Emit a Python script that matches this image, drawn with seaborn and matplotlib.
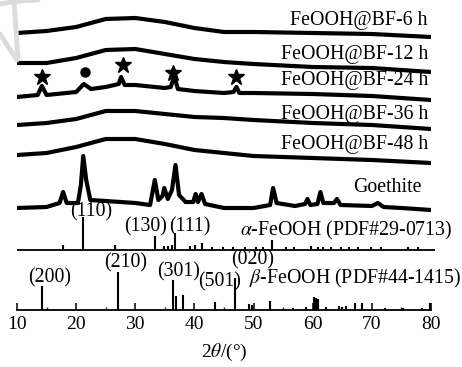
import matplotlib
matplotlib.use("Agg")
import matplotlib.pyplot as plt
from matplotlib.lines import Line2D
import seaborn as sns
import pandas as pd

# ---- measured patterns (2theta in degrees, intensity in a.u.) ----
tt_amorph = [10, 15, 20, 25, 30, 35, 40, 45, 50, 60, 70, 80]
i_6h = [4, 6, 10, 18, 19, 15, 9, 5, 5, 4, 3, 0]
i_12h = [9, 9, 14, 22, 23, 18, 13, 10, 8, 5, 4, 0]
i_36h = [4, 6, 10, 18, 18, 15, 12, 11, 9, 6, 4, 0]
i_48h = [8, 10, 16, 24, 24, 19, 13, 10, 7, 5, 3, 0]

tt_24h = [10, 13.5, 14.2, 15, 20, 21.3, 22.5, 25, 27.2, 27.6, 28.2, 30, 35,
          36.0, 36.6, 37.2, 40, 45, 46.6, 47.1, 47.6, 50, 60, 70, 80]
i_24h = [3, 5, 14, 5, 8, 16, 11, 13, 16, 23, 15, 15, 12,
         13, 24, 11, 9, 7, 8, 13, 7, 7, 6, 4, 0]

tt_goethite = [10, 15, 17.2, 17.8, 18.4, 20.3, 20.8, 21.2, 21.7, 22.4, 25, 30,
               32.5, 33.3, 33.9, 34.6, 34.9, 35.5, 36.2, 36.8, 37.4, 38.5, 39.8,
               40.2, 40.6, 41.2, 41.8, 45, 50, 52.8, 53.3, 53.9, 57, 58.7, 59.1,
               59.6, 60.8, 61.3, 61.8, 63.6, 64.1, 64.7, 70, 71, 72, 75, 80]
i_goethite = [2, 3, 7, 18, 7, 7, 25, 54, 30, 10, 9, 7,
              5, 30, 10, 14, 22, 11, 20, 45, 15, 8, 8,
              16, 8, 16, 6, 2, 2, 5, 22, 7, 4, 6, 11,
              5, 6, 18, 7, 7, 11, 5, 4, 7, 3, 2, 0]

# ---- reference stick patterns ----
alpha_tt = [17.8, 21.2, 26.6, 33.3, 34.8, 35.6, 36.2, 36.65, 39.3, 40.1, 41.2,
            42.9, 44.9, 46.6, 48.5, 50.4, 51.6, 53.2, 55.5, 56.9, 59.7, 60.9,
            61.7, 63.1, 64.8, 66.2, 67.6, 69.9, 71.6, 76.1, 77.8]
alpha_int = [5, 33, 5, 14, 4, 4, 5, 17, 4, 5, 7,
             3, 3, 3, 3, 3, 3, 10, 3, 3, 4, 3,
             3, 3, 3, 3, 3, 3, 3, 3, 3]
beta_tt = [14.2, 27.0, 36.3, 36.85, 38.1, 43.5, 46.8, 49.3, 49.7, 52.7, 56.6,
           58.9, 60.3, 60.6, 60.9, 62.3, 64.5, 65.0, 65.7, 67.1, 68.4, 72.2,
           75.3, 78.4, 79.8]
beta_int = [24, 38, 30, 14, 15, 8, 32, 6, 5, 9, 2,
            3, 13, 12, 11, 3, 4, 3, 4, 7, 7, 2,
            2, 2, 7]

sample_names = ["FeOOH@BF-6 h", "FeOOH@BF-12 h", "FeOOH@BF-24 h",
                "FeOOH@BF-36 h", "FeOOH@BF-48 h", "Goethite"]
alpha_hkl = ["(110)", "(130)", "(111)"]
beta_hkl = ["(200)", "(210)", "(301)", "(501)", "(020)"]
star_tt = [14.2, 27.9, 36.4, 47.1]
circle_tt = [21.5]
x_ticks = [10, 20, 30, 40, 50, 60, 70, 80]

sns.set_theme(style="ticks")
plt.rcParams["font.family"] = ["Liberation Serif", "DejaVu Serif"]
plt.rcParams["mathtext.fontset"] = "stix"
plt.rcParams["text.color"] = "black"
plt.rcParams["axes.labelcolor"] = "black"

fig = plt.figure(figsize=(4.62, 3.67), dpi=100)
W, H = 462, 367
ax = fig.add_axes([17 / W, 57 / H, 414 / W, 310 / H])
ax.set_xlim(10, 80)
ax.set_ylim(0, 310)

# vertical offsets of the stacked traces
offsets = [273, 238, 210, 181, 147, 100]
traces = [(tt_amorph, i_6h), (tt_amorph, i_12h), (tt_24h, i_24h),
          (tt_amorph, i_36h), (tt_amorph, i_48h), (tt_goethite, i_goethite)]

for (tt, inten), off in zip(traces, offsets):
    df = pd.DataFrame({"tt": tt, "y": [v + off for v in inten]})
    sns.lineplot(data=df, x="tt", y="y", ax=ax, color="black", lw=3.0,
                 estimator=None, sort=False)

# labels of the traces
label_pos = [(79.4, 289), (79.6, 255), (79.6, 230), (79.6, 195), (79.6, 165), (78.4, 123)]
for name, (lx, ly) in zip(sample_names, label_pos):
    ax.text(lx, ly, name, ha="right", va="center", fontsize=14.3, color="black")

# phase markers on the 24 h pattern
ax.plot(star_tt, [233, 245, 237, 233], ls="none", marker="*", ms=12, color="black")
ax.plot(circle_tt, [238], ls="none", marker="o", ms=6.5, color="black")

# alpha-FeOOH reference
alpha_base = 60
ax.hlines(alpha_base, 10, 80.6, color="black", lw=1.3, clip_on=False)
ax.vlines(alpha_tt, alpha_base, [alpha_base + v for v in alpha_int],
          color="black", lw=1.5, clip_on=False)
ax.text(83.7, 80, r"$\alpha$-FeOOH (PDF#29-0713)", ha="right", va="center",
        fontsize=14.3, clip_on=False)
for txt, (hx, hy) in zip(alpha_hkl, [(22.5, 98), (31.7, 83), (39.3, 83)]):
    ax.text(hx, hy, txt, ha="center", va="center", fontsize=14.3)

# beta-FeOOH reference drawn on the bottom axis
ax.vlines(beta_tt, 0, beta_int, color="black", lw=1.5, clip_on=False)
ax.text(85.2, 32, r"$\beta$-FeOOH (PDF#44-1415)", ha="right", va="center",
        fontsize=14.3, clip_on=False)
for txt, (hx, hy) in zip(beta_hkl, [(15.5, 32), (28.3, 47), (37.4, 38), (44.3, 28), (49.9, 50)]):
    ax.text(hx, hy, txt, ha="center", va="center", fontsize=14.3)

# axes styling: only the bottom spine with inward ticks
for side in ["left", "right", "top"]:
    ax.spines[side].set_visible(False)
ax.spines["bottom"].set_linewidth(1.3)
ax.spines["bottom"].set_color("black")
ax.set_yticks([])
ax.set_xticks(x_ticks)
ax.set_xticks([15, 25, 35, 45, 55, 65, 75], minor=True)
ax.tick_params(axis="x", which="major", direction="in", length=5, width=1.1,
               labelsize=14, pad=4, colors="black")
ax.tick_params(axis="x", which="minor", direction="in", length=2, width=1.0)
ax.set_xlabel(r"2$\theta$/(°)", fontsize=14, labelpad=7)
ax.set_ylabel("")
ax.patch.set_visible(False)

# faint grey mark at the upper-left corner
def fig_pts(pts):
    return [p[0] / W for p in pts], [1 - p[1] / H for p in pts]
for pts in ([(0, 4), (12, 2), (25, 0.5), (38, 0)],
            [(14, 0), (16, 30), (18, 58)],
            [(0, 34), (9, 48), (17, 60)]):
    xs, ys = fig_pts(pts)
    fig.add_artist(Line2D(xs, ys, color="#dcdcdc", lw=3.5, solid_capstyle="round"))

fig.savefig("out.png", dpi=100)
